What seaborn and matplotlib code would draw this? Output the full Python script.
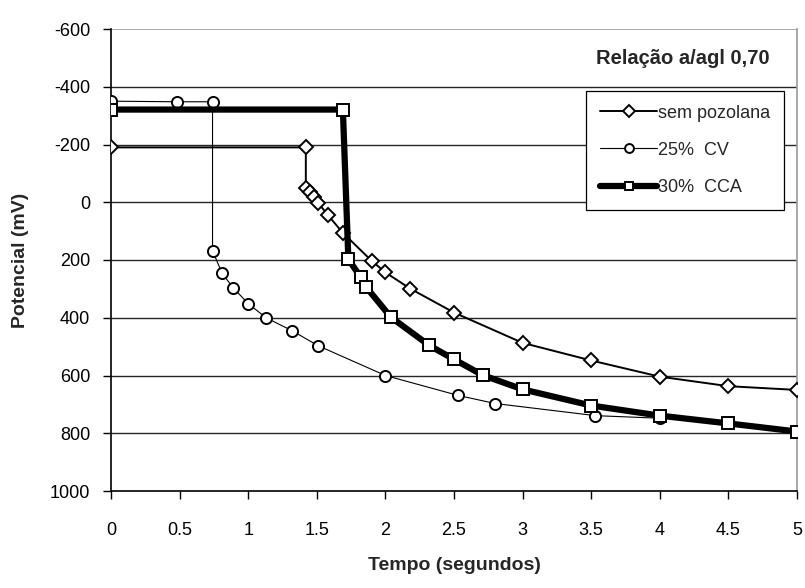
import matplotlib
matplotlib.use("Agg")
import matplotlib.pyplot as plt
from matplotlib.ticker import FuncFormatter, MultipleLocator
import seaborn as sns
import pandas as pd

# Potential (mV) against time (s) for three mixes, w/b ratio 0.70
t_sem = [0, 1.42, 1.42, 1.45, 1.48, 1.51, 1.58, 1.69, 1.90, 2.00, 2.18, 2.50, 3.00, 3.50, 4.00, 4.50, 5.00]
p_sem = [-190, -190, -50, -36, -18, 2, 44, 106, 203, 243, 299, 382, 487, 548, 604, 637, 650]

t_cv = [0, 0.48, 0.74, 0.74, 0.81, 0.89, 1.0, 1.13, 1.32, 1.51, 2.00, 2.53, 2.80, 3.53, 4.00]
p_cv = [-350, -348, -348, 168, 246, 296, 351, 400, 445, 497, 600, 669, 697, 739, 748]

t_cca = [0, 1.69, 1.73, 1.82, 1.86, 2.04, 2.32, 2.50, 2.71, 3.00, 3.50, 4.00, 4.50, 5.00]
p_cca = [-321, -321, 197, 260, 294, 398, 496, 544, 599, 648, 704, 739, 766, 794]

labels = ["sem pozolana", "25%  CV", "30%  CCA"]
title_text = "Relação a/agl 0,70"
x_title = "Tempo (segundos)"
y_title = "Potencial (mV)"
y_ticks = [-600, -400, -200, 0, 200, 400, 600, 800, 1000]

sns.set_theme(style="white")
plt.rcParams["font.family"] = ["Liberation Sans", "DejaVu Sans"]

W, H = 805, 588
fig = plt.figure(figsize=(W / 100, H / 100), dpi=100)
ax = fig.add_axes([111 / W, (H - 491) / H, 686 / W, 462 / H])

styles = [
    dict(marker="D", markersize=7.5, linewidth=1.4),
    dict(marker="o", markersize=8, linewidth=0.8),
    dict(marker="s", markersize=8, linewidth=4.5),
]
series = [(t_sem, p_sem), (t_cv, p_cv), (t_cca, p_cca)]
for (tx, py), lab, st in zip(series, labels, styles):
    df = pd.DataFrame({"t": tx, "p": py})
    sns.lineplot(data=df, x="t", y="p", ax=ax, sort=False, estimator=None,
                 color="black", marker=st["marker"], markersize=st["markersize"],
                 linewidth=st["linewidth"], markerfacecolor="white",
                 markeredgecolor="black", markeredgewidth=1.4, label=lab,
                 zorder=3)

ax.set_xlim(0, 5)
ax.set_ylim(1000, -600)
ax.set_yticks(y_ticks)
ax.xaxis.set_major_locator(MultipleLocator(0.5))
ax.xaxis.set_major_formatter(FuncFormatter(lambda v, _: f"{v:g}"))
ax.yaxis.set_major_formatter(FuncFormatter(lambda v, _: f"{v:g}"))

for y in y_ticks[1:-1]:
    ax.axhline(y, color="#262626", linewidth=1.0, zorder=1)
ax.axhline(y_ticks[0], color="#999999", linewidth=1.2, zorder=1)

ax.spines["top"].set_visible(False)
ax.spines["right"].set_color("#999999")
ax.spines["right"].set_linewidth(1.2)
for side in ("left", "bottom"):
    ax.spines[side].set_color("black")
    ax.spines[side].set_linewidth(1.2)
ax.tick_params(axis="both", which="major", direction="out", length=6,
               width=1, color="black", labelsize=13, labelcolor="black",
               bottom=True, left=True)
ax.tick_params(axis="y", pad=9)
ax.tick_params(axis="x", pad=16)

ax.set_xlabel(x_title, fontsize=14, fontweight="bold")
ax.set_ylabel(y_title, fontsize=14, fontweight="bold")
ax.xaxis.set_label_coords(0.5, (491 - 557) / 462)
ax.yaxis.set_label_coords((29 - 111) / 686, 0.5)

leg = ax.legend(loc="upper right", bbox_to_anchor=(784 / W, 1 - 91 / H),
                bbox_transform=fig.transFigure, frameon=True, fancybox=False,
                fontsize=13, handlelength=3.2, borderpad=0.75, labelspacing=1.12,
                handletextpad=0.05, borderaxespad=0, markerscale=0.8)
leg.get_frame().set_edgecolor("black")
leg.get_frame().set_linewidth(0.9)
leg.get_frame().set_alpha(1)
leg.set_zorder(5)

fig.text(770 / W, 1 - 58 / H, title_text, ha="right", va="center",
         fontsize=14.5, fontweight="bold")

fig.savefig("out.png", dpi=100, facecolor="white")
